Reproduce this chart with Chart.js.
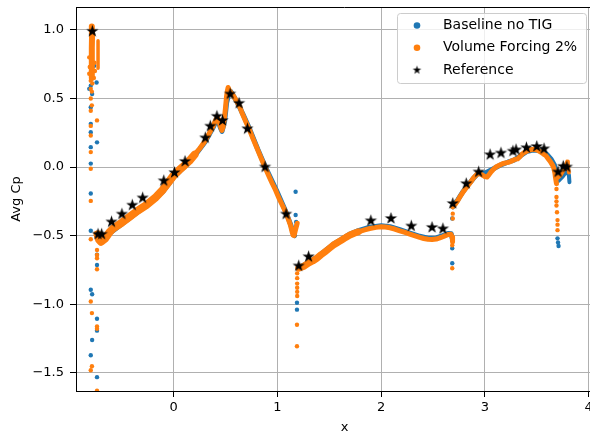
<!DOCTYPE html>
<html>
<head>
<meta charset="utf-8">
<script src="https://cdn.jsdelivr.net/npm/chart.js@4.4.0/dist/chart.umd.min.js"></script>
<style>
  html, body { margin: 0; padding: 0; background: #fff; overflow: hidden; }
  #wrap { width: 620px; height: 434px; }
</style>
</head>
<body>
<div id="wrap"><canvas id="c" width="620" height="434"></canvas></div>
<script>
// valori (x, Avg Cp)
const legendLabels = ["Baseline no TIG", "Volume Forcing 2%", "Reference"];
const yTicks = [-1.5, -1.0, -0.5, 0.0, 0.5, 1.0];

// Volume Forcing 2% - tratti continui
const volA = [[-0.79,1.025],[-0.788,0.95],[-0.79,0.87],[-0.79,0.80],[-0.79,0.72],[-0.79,0.65]];
const volA2 = [[-0.73,0.92],[-0.73,0.82],[-0.73,0.72]];
const volB1 = [[-0.735,-0.49],[-0.72,-0.53],[-0.70,-0.545],[-0.66,-0.52],[-0.62,-0.475],[-0.585,-0.448],[-0.50,-0.405],
  [-0.425,-0.363],[-0.35,-0.32],[-0.265,-0.278],[-0.18,-0.225],[-0.105,-0.165],[-0.04,-0.10],[0.0,-0.06],
  [0.055,-0.02],[0.10,0.01],[0.15,0.045],[0.20,0.09]];
const volB2 = [[0.20,0.09],[0.25,0.135],[0.294,0.18],[0.335,0.235],[0.374,0.29],[0.40,0.335],[0.42,0.363],[0.435,0.34],
  [0.448,0.30],[0.464,0.267],[0.475,0.29],[0.486,0.34],[0.50,0.44],[0.508,0.51],[0.518,0.56],[0.524,0.58],
  [0.535,0.56],[0.55,0.545],[0.58,0.515],[0.604,0.484],[0.635,0.44],[0.662,0.388],[0.695,0.33],[0.726,0.279],
  [0.765,0.205],[0.805,0.133],[0.845,0.06],[0.886,-0.012],[0.92,-0.07],[0.95,-0.12],[0.982,-0.169],[1.013,-0.225],
  [1.045,-0.275],[1.078,-0.327],[1.10,-0.37],[1.125,-0.423],[1.14,-0.47],[1.15,-0.496],[1.16,-0.50],[1.173,-0.46],[1.19,-0.41]];
const volC1 = [[1.205,-0.738],[1.25,-0.725],[1.30,-0.70],[1.34,-0.685],[1.38,-0.665],[1.42,-0.64],[1.46,-0.617],
  [1.50,-0.593],[1.54,-0.569],[1.58,-0.55],[1.62,-0.532],[1.66,-0.513],[1.70,-0.496],[1.74,-0.483],[1.78,-0.472]];
const volC2 = [[1.78,-0.472],[1.84,-0.458],[1.89,-0.448],[1.95,-0.44],[2.0,-0.436],[2.04,-0.437],[2.085,-0.443],
  [2.13,-0.452],[2.18,-0.465],[2.23,-0.477],[2.276,-0.489],[2.32,-0.50],[2.372,-0.513],[2.41,-0.521],[2.452,-0.527],
  [2.49,-0.528],[2.531,-0.525],[2.565,-0.517],[2.595,-0.508],[2.625,-0.498],[2.65,-0.491],[2.672,-0.49],
  [2.685,-0.51],[2.688,-0.545]];
const volD = [[2.69,-0.29],[2.715,-0.27],[2.74,-0.242],[2.765,-0.21],[2.79,-0.181],[2.815,-0.157],[2.84,-0.133],
  [2.865,-0.108],[2.885,-0.085],[2.91,-0.063],[2.93,-0.048],[2.955,-0.05],[2.98,-0.06],[3.0,-0.07],[3.02,-0.073],
  [3.04,-0.055],[3.058,-0.036],[3.08,-0.018],[3.106,0.0],[3.14,0.013],[3.17,0.024],[3.20,0.03],[3.235,0.036],
  [3.26,0.045],[3.283,0.053],[3.30,0.058],[3.315,0.06],[3.34,0.078],[3.362,0.097],[3.385,0.108],[3.41,0.118],
  [3.44,0.126],[3.475,0.13],[3.505,0.124],[3.538,0.11],[3.565,0.095],[3.586,0.085],[3.61,0.06],[3.634,0.036],
  [3.655,0.01],[3.666,-0.012],[3.675,-0.045],[3.68,-0.073],[3.69,-0.121]];
const volE = [[3.70,-0.08],[3.73,-0.06],[3.76,-0.02],[3.78,0.012],[3.793,0.04],[3.80,0.01],[3.81,-0.04]];

// Volume Forcing 2% - punti sparsi
const volPts = [[-0.815,0.80],[-0.81,0.73],[-0.765,0.76],[-0.76,0.70],[-0.815,0.68],[-0.77,0.65],[-0.80,0.63],
  [-0.785,0.61],[-0.80,0.57],[-0.79,0.55],[-0.80,0.50],[-0.79,0.45],[-0.80,0.41],[-0.80,0.30],[-0.74,0.34],
  [-0.80,0.23],[-0.80,0.109],[-0.80,-0.012],[-0.80,-0.247],[-0.80,-0.527],[-0.74,-0.605],[-0.74,-0.641],
  [-0.74,-0.665],[-0.74,-0.745],[-0.80,-0.98],[-0.789,-1.065],[-0.74,-1.162],[-0.74,-1.18],[-0.789,-1.452],
  [-0.80,-1.482],[-0.74,-1.63],
  [1.18,-0.43],[1.19,-0.775],[1.19,-0.81],[1.19,-0.85],[1.19,-0.88],[1.19,-0.91],[1.19,-0.94],[1.188,-1.15],
  [1.188,-1.307],
  [2.685,-0.532],[2.685,-0.57],[2.685,-0.738],[2.69,-0.34],[2.69,-0.375],
  [3.69,-0.16],[3.69,-0.218],[3.69,-0.25],[3.69,-0.28],[3.695,-0.33],[3.70,-0.387],[3.70,-0.42],[3.70,-0.46]];

// Baseline no TIG - tratti continui
const baseB = [[-0.735,-0.50],[-0.70,-0.55],[-0.62,-0.485],[-0.50,-0.415],[-0.35,-0.33],[-0.20,-0.245],
  [-0.10,-0.175],[0.0,-0.075],[0.10,0.0],[0.20,0.08],[0.30,0.18],[0.374,0.28],[0.42,0.355],[0.448,0.29],
  [0.465,0.26],[0.49,0.33],[0.51,0.47],[0.53,0.53],[0.55,0.55],[0.575,0.52],[0.61,0.475],[0.67,0.38],
  [0.73,0.28],[0.81,0.13],[0.89,-0.01],[0.99,-0.17],[1.08,-0.325],[1.13,-0.425],[1.155,-0.495],[1.165,-0.50]];
const baseC = [[1.205,-0.735],[1.30,-0.695],[1.38,-0.66],[1.46,-0.61],[1.54,-0.562],[1.62,-0.525],[1.70,-0.488],
  [1.78,-0.463],[1.89,-0.438],[2.0,-0.428],[2.085,-0.435],[2.18,-0.457],[2.276,-0.481],[2.372,-0.505],
  [2.452,-0.519],[2.531,-0.517],[2.595,-0.5],[2.65,-0.484],[2.675,-0.487],[2.685,-0.52]];
const baseD = [[2.69,-0.29],[2.74,-0.238],[2.79,-0.178],[2.84,-0.128],[2.89,-0.082],[2.93,-0.05],[2.97,-0.045],
  [3.0,-0.045],[3.05,-0.025],[3.10,-0.005],[3.16,0.018],[3.22,0.035],[3.28,0.05],[3.34,0.08],[3.40,0.112],
  [3.46,0.124],[3.52,0.12],[3.56,0.11],[3.60,0.09],[3.64,0.055],[3.67,0.015],[3.685,-0.03],[3.695,-0.09]];
const baseE = [[3.71,-0.10],[3.75,-0.07],[3.79,-0.03],[3.81,-0.06],[3.815,-0.11]];

// Baseline no TIG - punti sparsi
const basePts = [[-0.815,0.57],[-0.744,0.617],[-0.767,0.738],[-0.80,0.593],[-0.787,0.533],[-0.80,0.436],
  [-0.80,0.315],[-0.80,0.254],[-0.80,0.145],[-0.74,0.18],[-0.80,0.025],[-0.80,-0.193],[-0.80,-0.465],
  [-0.74,-0.64],[-0.74,-0.714],[-0.80,-0.895],[-0.787,-0.927],[-0.74,-1.106],[-0.74,-1.193],[-0.787,-1.261],
  [-0.80,-1.372],[-0.74,-1.532],
  [1.175,-0.18],[1.175,-0.35],[1.18,-0.40],[1.188,-0.99],[1.188,-1.04],
  [2.685,-0.593],[2.685,-0.702],[2.685,-0.375],
  [3.70,-0.52],[3.705,-0.55],[3.71,-0.576]];

// Reference
const refPts = [[-0.785,0.99],[-0.73,-0.49],[-0.695,-0.49],[-0.60,-0.40],[-0.50,-0.343],[-0.40,-0.278],
  [-0.30,-0.225],[-0.096,-0.10],[0.007,-0.041],[0.109,0.041],[0.304,0.213],[0.352,0.298],[0.416,0.37],
  [0.47,0.339],[0.544,0.533],[0.63,0.465],[0.71,0.279],[0.88,0.0],[1.083,-0.343],[1.205,-0.721],[1.30,-0.654],
  [1.90,-0.392],[2.094,-0.375],[2.29,-0.43],[2.49,-0.44],[2.595,-0.45],[2.69,-0.266],[2.82,-0.121],
  [2.94,-0.036],[3.05,0.09],[3.155,0.102],[3.27,0.116],[3.30,0.126],[3.40,0.141],[3.50,0.15],[3.57,0.133],
  [3.705,-0.036],[3.755,0.005],[3.79,0.0]];

const BLUE = "#1f77b4";
const ORANGE = "#ff7f0e";
const FONT = "'DejaVu Sans', sans-serif";

// stella piena stile matplotlib
function starImage(r) {
    var s = Math.ceil(r * 2 + 2);
    var c = document.createElement('canvas');
    c.width = s; c.height = s;
    var g = c.getContext('2d');
    g.beginPath();
    for (var i = 0; i < 10; i++) {
        var rr = (i % 2) ? r * 0.382 : r;
        var a = -Math.PI / 2 + i * Math.PI / 5;
        g.lineTo(s / 2 + rr * Math.cos(a), s / 2 + rr * Math.sin(a));
    }
    g.closePath();
    g.fillStyle = '#000';
    g.fill();
    return c;
}

var toXY = function(pts) {
    return pts.map(function(p) { return {x: p[0], y: p[1]}; });
};

var curve = function(pts, color, width, order) {
    return {
        data: toXY(pts), showLine: true, borderColor: color, borderWidth: width,
        pointRadius: 0, borderCapStyle: 'round', borderJoinStyle: 'round', tension: 0, order: order
    };
};

var dots = function(pts, color, r, order) {
    return {
        data: toXY(pts), showLine: false, pointRadius: r, pointBackgroundColor: color,
        pointBorderWidth: 0, borderColor: color, backgroundColor: color, order: order
    };
};

var starBig = starImage(6.5);
var starSmall = starImage(4.5);

var datasets = [
    curve(baseB, BLUE, 5, 5), curve(baseC, BLUE, 5, 5), curve(baseD, BLUE, 5, 5), curve(baseE, BLUE, 4, 5),
    dots(basePts, BLUE, 2.2, 5),
    curve(volA, ORANGE, 6, 3), curve(volA2, ORANGE, 3.5, 3), curve(volB1, ORANGE, 8, 3), curve(volB2, ORANGE, 5, 3),
    curve(volC1, ORANGE, 7, 3), curve(volC2, ORANGE, 5, 3), curve(volD, ORANGE, 5, 3), curve(volE, ORANGE, 4, 3),
    dots(volPts, ORANGE, 2.2, 3),
    { data: toXY(refPts), showLine: false, pointStyle: starBig, pointRadius: 6, order: 1 }
];

// legenda dentro l'area del grafico + bordo superiore
var boxLegend = {
    id: 'boxLegend',
    afterDraw: function(chart) {
        var g = chart.ctx;
        var a = chart.chartArea;
        g.save();
        g.strokeStyle = '#000';
        g.lineWidth = 1;
        g.beginPath();
        g.moveTo(a.left, a.top + 0.5);
        g.lineTo(a.right, a.top + 0.5);
        g.lineTo(a.right, a.bottom);
        g.stroke();

        var bx = 397.5, by = 13.5, bw = 189, bh = 70, rad = 3;
        g.beginPath();
        g.moveTo(bx + rad, by);
        g.arcTo(bx + bw, by, bx + bw, by + bh, rad);
        g.arcTo(bx + bw, by + bh, bx, by + bh, rad);
        g.arcTo(bx, by + bh, bx, by, rad);
        g.arcTo(bx, by, bx + bw, by, rad);
        g.closePath();
        g.fillStyle = 'rgba(255,255,255,0.8)';
        g.fill();
        g.strokeStyle = '#cccccc';
        g.stroke();

        var colors = [BLUE, ORANGE, null];
        g.font = '14px ' + FONT;
        g.textBaseline = 'middle';
        g.textAlign = 'left';
        for (var i = 0; i < legendLabels.length; i++) {
            var yy = 25.5 + i * 22.3;
            if (colors[i]) {
                g.beginPath();
                g.arc(417, yy, 3.3, 0, Math.PI * 2);
                g.fillStyle = colors[i];
                g.fill();
            } else {
                g.drawImage(starSmall, 417 - starSmall.width / 2, yy - starSmall.height / 2);
            }
            g.fillStyle = '#000';
            g.fillText(legendLabels[i], 443, yy);
        }
        g.restore();
    }
};

var minus = function(s) { return s.replace('-', '\u2212'); };

new Chart(document.getElementById('c'), {
    type: 'scatter',
    data: { datasets: datasets },
    options: {
        responsive: false,
        animation: false,
        events: [],
        layout: { padding: { top: 6, right: 4, left: 0, bottom: 0 } },
        plugins: { legend: { display: false }, tooltip: { enabled: false } },
        scales: {
            x: {
                type: 'linear', min: -0.9425, max: 4.235, z: 1,
                afterFit: function(s) { s.height = 43; s.paddingLeft = 0; s.paddingRight = 0; },
                ticks: {
                    stepSize: 1, includeBounds: false, color: '#000', padding: 3,
                    font: { family: FONT, size: 13 }, maxRotation: 0,
                    callback: function(v) { return minus(String(v)); }
                },
                grid: { color: '#b0b0b0', lineWidth: 1, tickColor: '#000', tickLength: 6 },
                border: { color: '#000', width: 1 },
                title: { display: true, text: 'x', color: '#000', font: { family: FONT, size: 13, lineHeight: 1 }, padding: { top: 0, bottom: 0 } }
            },
            y: {
                type: 'linear', min: -1.633, max: 1.167, z: 1,
                afterFit: function(s) { s.width = 76; s.paddingTop = 0; s.paddingBottom = 0; },
                afterBuildTicks: function(s) { s.ticks = yTicks.map(function(v) { return {value: v}; }); },
                ticks: {
                    color: '#000', padding: 6, font: { family: FONT, size: 13 },
                    callback: function(v) { return minus(v.toFixed(1)); }
                },
                grid: { color: '#b0b0b0', lineWidth: 1, tickColor: '#000', tickLength: 6 },
                border: { color: '#000', width: 1 },
                title: { display: true, text: 'Avg Cp', color: '#000', font: { family: FONT, size: 13 }, padding: { top: 9, bottom: 0 } }
            }
        }
    },
    plugins: [boxLegend]
});
</script>
</body>
</html>
